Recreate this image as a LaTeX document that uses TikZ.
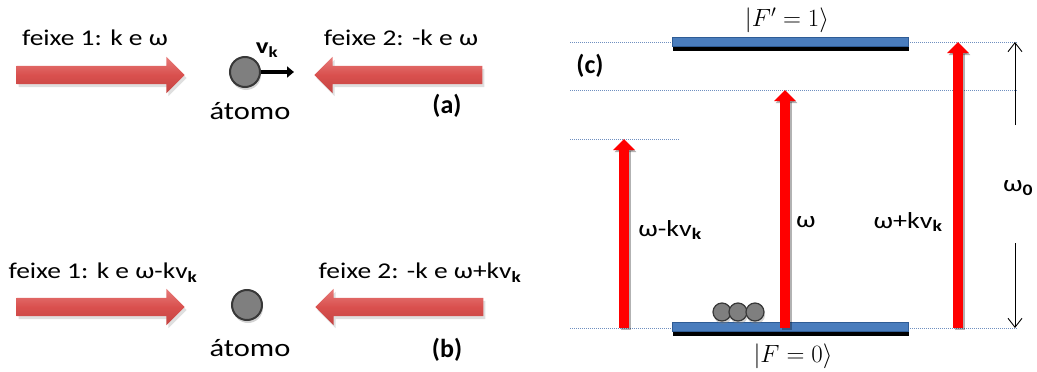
\documentclass[tikz,border=0pt]{standalone}
\usepackage{amsmath}
\usepackage{fontspec}
\setmainfont{Carlito}
\newfontfamily\widefont{Carlito}[FakeStretch=1.22]
\usepackage{tikz}
\usetikzlibrary{arrows.meta, shapes.arrows, shadows}
\definecolor{beam_red}{HTML}{D9504E}
\definecolor{beam_light}{HTML}{E77B79}
\definecolor{beam_dark}{HTML}{C44442}
\definecolor{level_blue}{HTML}{4A7DBD}
\definecolor{level_edge}{HTML}{2F5C95}
\definecolor{dot_blue}{HTML}{6F8FC0}
\definecolor{atom_gray}{HTML}{7F7F7F}
\definecolor{atom_edge}{HTML}{383838}

\begin{document}
\begin{tikzpicture}[
    x=1pt, y=-1pt,
    beam/.style={single arrow, minimum height=168pt, minimum width=0pt,
        single arrow head extend=9pt, single arrow head indent=0pt,
        inner xsep=0pt, inner ysep=9pt,
        top color=beam_light, bottom color=beam_dark, middle color=beam_red,
        draw=none, drop shadow={opacity=0.25, shadow xshift=2pt, shadow yshift=-3pt}},
    atom/.style={circle, minimum size=30pt, inner sep=0pt, fill=atom_gray,
        draw=atom_edge, line width=2pt,
        drop shadow={opacity=0.35, shadow xshift=1pt, shadow yshift=-3pt}},
    smallatom/.style={atom, minimum size=18pt, line width=1.2pt},
    level/.style={rectangle, minimum width=236pt, minimum height=9pt, inner sep=0pt,
        fill=level_blue, draw=level_edge, line width=0.6pt,
        drop shadow={opacity=1, fill=black, shadow xshift=1pt, shadow yshift=-4pt}},
    guide/.style={dot_blue, line width=0.7pt, dash pattern=on 1pt off 1pt},
    pump/.style={red, line width=10pt, -{Triangle[width=21pt, length=11pt]}},
    pumpshadow/.style={black, opacity=0.3, line width=10pt,
        -{Triangle[width=21pt, length=11pt]}},
    beamlabel/.style={font=\widefont\fontsize{22.5}{26}\selectfont},
    tag/.style={font=\bfseries\fontsize{26}{30}\selectfont},
    mathlabel/.style={font=\fontsize{23}{27}\selectfont},
]
\useasboundingbox (0,0) rectangle (1037,372);

% ── Panel (a): moving atom ───────────────────────────────────────────────────
\node[beamlabel] (feixe1a) at (95,38) {feixe 1: k e ω};
\node[beamlabel] (feixe2a) at (401,38) {feixe 2: -k e ω};
\node[beam] (beam1a) at (96,75) {};
\node[beam, shape border rotate=180] (beam2a) at (403,75) {};
\node[atom] (atomA) at (245,72) {};
\coordinate (vtip) at (294,72);
\draw[line width=4.5pt, -{Triangle[width=11pt, length=7pt]}] (atomA.east) -- (vtip);
\node[beamlabel, font=\widefont\bfseries\fontsize{22}{26}\selectfont] (vk) at (267,50) {v\textsubscript{k}};
\node[beamlabel, font=\widefont\fontsize{25}{28}\selectfont] (atomoA) at (250,111) {átomo};
\node[tag] (tagA) at (447,106) {(a)};

% ── Panel (b): atom at rest ──────────────────────────────────────────────────
\node[beamlabel] (feixe1b) at (103,273) {feixe 1: k e ω-kv\textsubscript{\bfseries k}};
\node[beamlabel] (feixe2b) at (420,273) {feixe 2: -k e ω+kv\textsubscript{\bfseries k}};
\node[beam] (beam1b) at (96,307) {};
\node[beam, shape border rotate=180] (beam2b) at (404,307) {};
\node[atom] (atomB) at (247,305) {};
\node[beamlabel, font=\widefont\fontsize{25}{28}\selectfont] (atomoB) at (250,348) {átomo};
\node[tag] (tagB) at (447,350) {(b)};

% ── Panel (c): level scheme ──────────────────────────────────────────────────
% dotted guide lines
\draw[guide] (570,42) -- (1018,42);
\draw[guide] (570,90) -- (1018,90);
\draw[guide] (570,139) -- (680,139);
\draw[guide] (570,328) -- (1018,328);

% the two levels
\node[level] (upper) at (790,42) {};
\node[level] (lower) at (790,327) {};
\node[mathlabel] (upperlab) at (787,20) {$|F'=1\rangle$};
\node[mathlabel] (lowerlab) at (793,356) {$|F=0\rangle$};
\node[tag] (tagC) at (590,66) {(c)};

% atoms sitting in the ground level
\foreach \ax [count=\i] in {722,738,755} {
    \node[smallatom] (atomC\i) at (\ax,312) {};
}

% laser frequencies
\coordinate (redbase) at (624,328);  \coordinate (redtip) at (624,139);
\coordinate (resbase) at (785,328);  \coordinate (restip) at (785,90);
\coordinate (bluebase) at (958,328); \coordinate (bluetip) at (958,42);
\foreach \b/\t in {redbase/redtip, resbase/restip, bluebase/bluetip} {
    \draw[pumpshadow, transform canvas={xshift=1.5pt, yshift=-2pt}] (\b) -- (\t);
    \draw[pump] (\b) -- (\t);
}
\node[beamlabel, font=\widefont\fontsize{23}{26}\selectfont] (labred) at (670,230) {ω-kv\textsubscript{\bfseries k}};
\node[beamlabel, font=\widefont\fontsize{23}{26}\selectfont] (labres) at (806,222) {ω};
\node[beamlabel, font=\widefont\fontsize{23}{26}\selectfont] (labblue) at (908,222) {ω+kv\textsubscript{\bfseries k}};

% transition frequency omega_0
\coordinate (gapup) at (1015,125);   \coordinate (gaptop) at (1015,42);
\coordinate (gapdown) at (1015,243); \coordinate (gapbot) at (1015,328);
\draw[line width=0.9pt, -{Straight Barb[length=9pt, width=14pt]}] (gapup) -- (gaptop);
\draw[line width=0.9pt, -{Straight Barb[length=9pt, width=14pt]}] (gapdown) -- (gapbot);
\node[beamlabel, font=\widefont\fontsize{23}{26}\selectfont] (omega0) at (1018,188) {ω\textsubscript{\bfseries 0}};

\end{tikzpicture}
\end{document}
